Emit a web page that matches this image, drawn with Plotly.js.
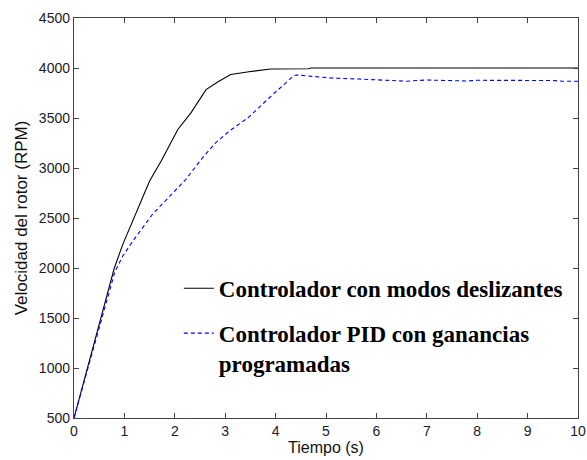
<!DOCTYPE html>
<html>
<head>
<meta charset="utf-8">
<script src="https://cdn.plot.ly/plotly-3.0.1.min.js"></script>
<style>html,body{margin:0;padding:0;background:#fff;}#chart{width:587px;height:460px;}</style>
</head>
<body>
<div id="chart"></div>
<script>
// Sliding-mode controller response
var tSmc = [0, 0.4, 0.8, 0.97, 1.17, 1.5, 1.73, 2.06, 2.32, 2.62, 2.85, 3.11, 3.47, 3.9, 4.65, 4.7, 10];
var vSmc = [500, 1250, 2000, 2239, 2471, 2870, 3069, 3385, 3551, 3784, 3860, 3935, 3962, 3990, 3993, 4000, 4000];
// PID with gain scheduling response
var tPid = [0, 0.4, 0.81, 0.97, 1.17, 1.56, 1.93, 2.22, 2.55, 2.81, 3.08, 3.47, 3.87, 4.36, 4.42, 4.72, 5.1, 5.64, 6.03, 6.35, 6.6, 7.0, 7.5, 7.8, 8.0, 8.5, 9.0, 9.5, 9.7, 10];
var vPid = [500, 1230, 1960, 2122, 2272, 2538, 2737, 2887, 3102, 3252, 3368, 3510, 3700, 3924, 3930, 3917, 3900, 3890, 3880, 3868, 3868, 3880, 3878, 3870, 3877, 3878, 3878, 3875, 3867, 3867];
var nameSmc = 'Controlador con modos deslizantes';
var namePid = 'Controlador PID con ganancias<br>programadas';
var xTicks = [0,1,2,3,4,5,6,7,8,9,10];
var yTicks = [500,1000,1500,2000,2500,3000,3500,4000,4500];

var traces = [
  {x: tSmc, y: vSmc, type: 'scatter', mode: 'lines', name: nameSmc, legendgroup: 'a',
   line: {color: '#000000', width: 1.1}},
  {x: tPid, y: vPid, type: 'scatter', mode: 'lines', name: namePid, legendgroup: 'b',
   line: {color: '#0000ff', width: 1.1, dash: '4px,3px'}}
];
var axisCommon = {
  showline: true, linecolor: '#444', linewidth: 1.2, mirror: 'ticks',
  ticks: 'inside', ticklen: 5, tickcolor: '#444', tickwidth: 1,
  showgrid: false, zeroline: false, ticklabeloverflow: 'allow',
  tickfont: {family: 'Liberation Sans, Arial, sans-serif', size: 14, color: '#1a1a2a'}
};
var layout = {
  width: 587, height: 460,
  margin: {l: 74, r: 9, t: 18, b: 42},
  paper_bgcolor: '#ffffff', plot_bgcolor: '#ffffff',
  showlegend: true,
  legend: {x: 0.208, y: 0.378, xanchor: 'left', yanchor: 'top', bgcolor: 'rgba(0,0,0,0)',
    font: {family: 'Liberation Serif, Times New Roman, serif', size: 23, color: '#000', weight: 'bold'},
    valign: 'top', tracegroupgap: 12},
  xaxis: Object.assign({}, axisCommon, {range: [0, 10], tickvals: xTicks, ticktext: xTicks.map(String),
    title: {text: 'Tiempo (s)', standoff: 2, font: {family: 'Liberation Sans, Arial, sans-serif', size: 16, color: '#111'}}}),
  yaxis: Object.assign({}, axisCommon, {range: [500, 4500], tickvals: yTicks, ticktext: yTicks.map(String),
    title: {text: 'Velocidad del rotor (RPM)', standoff: 6, font: {family: 'Liberation Sans, Arial, sans-serif', size: 17, color: '#111'}}})
};
Plotly.newPlot('chart', traces, layout, {displayModeBar: false, staticPlot: true});
</script>
</body>
</html>
